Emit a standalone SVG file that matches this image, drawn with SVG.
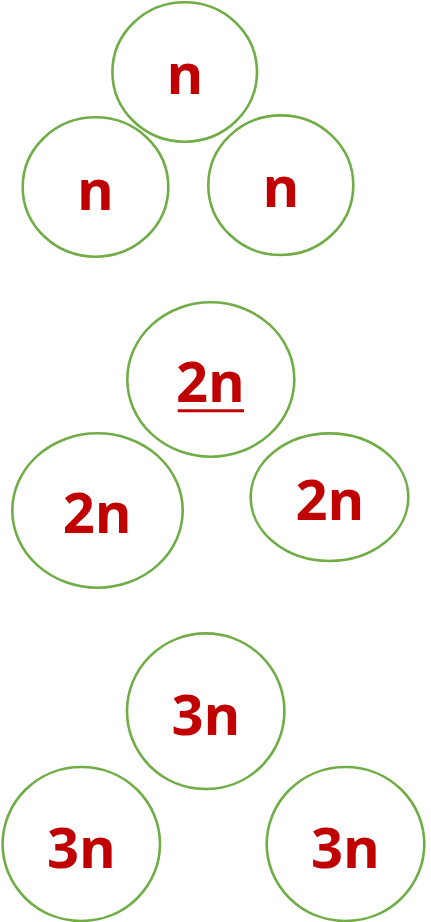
<svg xmlns="http://www.w3.org/2000/svg" width="431" height="922" viewBox="0 0 431 922">
<style>
.c{fill:#ffffff;stroke:#70AD47;stroke-width:2.6}
.t{font-family:"Open Sans","Liberation Sans",sans-serif;font-weight:700;font-size:56px;fill:#C00000;text-anchor:middle}
.u{stroke:#C00000;stroke-width:3}
</style>
<rect width="431" height="922" fill="#ffffff"/>
<g id="connectors"></g>
<g id="n-top"><ellipse class="c" cx="184.7" cy="72" rx="72.3" ry="69.7"/><text class="t" x="185" y="94.3">n</text></g>
<g id="n-left"><ellipse class="c" cx="95.5" cy="187" rx="72.8" ry="69.7"/><text class="t" x="95.5" y="210">n</text></g>
<g id="n-right"><ellipse class="c" cx="280.8" cy="185.2" rx="72.5" ry="69.8"/><text class="t" x="281" y="207.3">n</text></g>
<g id="2n-top"><ellipse class="c" cx="210.8" cy="379.5" rx="83.5" ry="77.2"/><text class="t" x="210.5" y="401.7">2n</text><line class="u" x1="177.7" y1="410.7" x2="244" y2="410.7"/></g>
<g id="2n-left"><ellipse class="c" cx="97.5" cy="510.5" rx="85.2" ry="77.2"/><text class="t" x="97.2" y="532.7">2n</text></g>
<g id="2n-right"><ellipse class="c" cx="329.5" cy="497.2" rx="78.8" ry="63.8"/><text class="t" x="329.8" y="520">2n</text></g>
<g id="3n-top"><ellipse class="c" cx="205.7" cy="711.2" rx="78.7" ry="77.8"/><text class="t" x="205.8" y="735">3n</text></g>
<g id="3n-left"><ellipse class="c" cx="81.3" cy="844" rx="78.7" ry="77"/><text class="t" x="81.3" y="868.3">3n</text></g>
<g id="3n-right"><ellipse class="c" cx="345.5" cy="844" rx="78.8" ry="77"/><text class="t" x="345.5" y="868.3">3n</text></g>
</svg>
